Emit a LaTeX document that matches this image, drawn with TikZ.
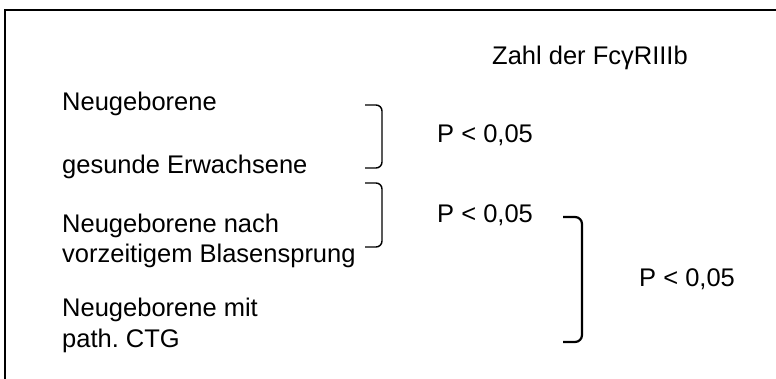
\documentclass[tikz,border=0pt]{standalone}
\usepackage{fontspec}
\setmainfont{Liberation Sans}
\usepackage{tikz}
\usetikzlibrary{calc}
\frenchspacing

\begin{document}
\begin{tikzpicture}[x=1pt,y=-1pt,
  lbl/.style={anchor=base west,inner sep=0pt,font=\fontsize{25.5}{31}\selectfont,align=left},
  brk/.style={line width=1.4pt,rounded corners=6pt},
  bigbrk/.style={line width=2.2pt,rounded corners=7pt}]
  \useasboundingbox (0,0) rectangle (776,379);
  % frame (cut at right and bottom)
  \draw[line width=2pt] (776,10) -- (5,10) -- (5,379);
  % header
  \node[lbl] (zahl) at (492,65) {Zahl der FcγRIIIb};
  % groups (base = last line)
  \node[lbl] (neo) at (62,111) {Neugeborene};
  \node[lbl] (adult) at (62,174) {gesunde Erwachsene};
  \node[lbl] (prom) at (62,263) {Neugeborene nach\\vorzeitigem Blasensprung};
  \node[lbl] (ctg) at (62,347) {Neugeborene mit\\path. CTG};
  % brackets
  \draw[brk] (365,105) -- (382,105) -- (382,168) -- (365,168);
  \draw[brk] (365,183) -- (382,183) -- (382,247) -- (365,247);
  \draw[bigbrk] (563,217) -- (582,217) -- (582,342) -- (563,342);
  % p values
  \node[lbl] (p1) at (437,143) {P < 0,05};
  \node[lbl] (p2) at (437,223) {P < 0,05};
  \node[lbl] (p3) at (639,287) {P < 0,05};
\end{tikzpicture}
\end{document}
